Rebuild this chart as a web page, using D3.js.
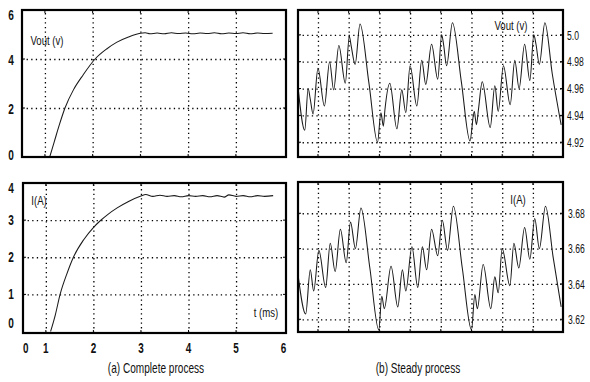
<!DOCTYPE html>
<html><head><meta charset="utf-8">
<script src="https://cdn.jsdelivr.net/npm/d3@7"></script>
<style>body{margin:0;background:#fff}svg{display:block}</style>
</head><body>
<svg id="c" width="590" height="382"></svg>
<script>
// ---------- data ----------
// (a) complete process, time in ms
const completeVTime = [1.10,1.20,1.30,1.42,1.60,1.80,2.05,2.30,2.50,2.75,3.00,3.10,3.20,3.35,3.50,3.65,3.80,3.95,4.10,4.25,4.40,4.55,4.70,4.85,5.00,5.15,5.30,5.45,5.60,5.77];
const completeV     = [0,0.65,1.3,2.0,2.75,3.35,4.0,4.42,4.68,4.9,5.05,5.07,5.03,5.06,5.03,5.07,5.04,5.06,5.03,5.06,5.04,5.07,5.03,5.06,5.04,5.07,5.03,5.06,5.04,5.05];
const completeITime = [1.10,1.20,1.30,1.45,1.58,1.80,2.00,2.15,2.30,2.50,2.75,3.00,3.10,3.25,3.40,3.55,3.70,3.85,4.00,4.15,4.30,4.45,4.60,4.75,4.85,5.00,5.15,5.30,5.45,5.60,5.78];
const completeI     = [0,0.45,1.0,1.58,2.0,2.48,2.8,2.99,3.15,3.33,3.51,3.65,3.69,3.64,3.67,3.64,3.66,3.63,3.66,3.64,3.66,3.63,3.66,3.62,3.68,3.64,3.66,3.63,3.66,3.64,3.66];
// (b) steady process, time in grid divisions
const steadyVTime = [-0.64,-0.43,-0.32,-0.25,-0.16,0.00,0.21,0.38,0.51,0.68,0.89,1.02,1.08,1.21,1.37,1.66,1.94,2.05,2.13,2.18,2.34,2.57,2.73,2.86,3.00,3.22,3.38,3.51,3.70,3.90,4.03,4.09,4.19,4.38,4.67,4.95,5.09,5.16,5.23,5.35,5.61,5.76,5.87,6.04,6.26,6.41,6.55,6.73,6.90,7.03,7.10,7.21,7.39,7.63,7.92];
const steadyV     = [4.959,4.929,4.960,4.952,4.941,4.975,4.947,4.980,4.959,4.992,4.964,4.999,4.992,4.978,5.008,4.964,4.920,4.942,4.932,4.944,4.964,4.930,4.959,4.942,4.977,4.947,4.981,4.963,4.993,4.967,5.000,4.993,4.977,5.009,4.965,4.921,4.943,4.933,4.945,4.965,4.931,4.962,4.943,4.977,4.948,4.981,4.960,4.993,4.966,5.000,4.993,4.978,5.009,4.971,4.933];
const steadyITime = [-0.64,-0.40,-0.25,-0.14,0.03,0.25,0.40,0.56,0.73,0.92,1.06,1.22,1.40,1.69,1.98,2.08,2.16,2.38,2.60,2.75,2.86,3.06,3.25,3.40,3.54,3.70,3.90,4.05,4.22,4.41,4.70,5.00,5.11,5.19,5.38,5.63,5.76,5.87,6.00,6.25,6.38,6.54,6.73,6.90,7.06,7.21,7.41,7.66,7.92];
const steadyI     = [3.644,3.623,3.648,3.636,3.659,3.638,3.663,3.647,3.671,3.652,3.675,3.660,3.683,3.649,3.614,3.633,3.626,3.650,3.627,3.648,3.636,3.661,3.638,3.661,3.648,3.671,3.656,3.676,3.659,3.684,3.649,3.614,3.634,3.626,3.651,3.626,3.644,3.635,3.660,3.639,3.663,3.649,3.672,3.654,3.677,3.660,3.684,3.655,3.627];

// ticks
const timeTickPos    = [0.58,1,2,3,4,5,6];
const timeTickLabels = ["0","1","2","3","4","5","6"];
const timeGrid       = [1,2,3,4,5];
const vTicks  = [0,2,4,6];
const iTicks  = [0,1,2,3,4];
const steadyGrid = [0,1,2,3,4,5,6,7];
const sVTicks = [4.92,4.94,4.96,4.98,5.0];
const sVLabels = ["4.92","4.94","4.96","4.98","5.0"];
const sITicks = [3.62,3.64,3.66,3.68];
const sILabels = ["3.62","3.64","3.66","3.68"];

// ---------- drawing ----------
const svg = d3.select('#c');
const FONT = '"Liberation Sans", Arial, Helvetica, sans-serif';

function txt(x, y, s, o) {
  o = o || {};
  svg.append('text')
    .attr('transform', `translate(${x},${y}) scale(${o.sx || 0.72},1)`)
    .attr('text-anchor', o.anchor || 'middle')
    .attr('dominant-baseline', 'central')
    .style('font-family', FONT)
    .style('font-size', (o.size || 13) + 'px')
    .style('font-weight', o.weight || 'normal')
    .attr('fill', '#111')
    .text(s);
}

function panel(c) {
  const x = d3.scaleLinear().domain(c.xd).range(c.xr);
  const y = d3.scaleLinear().domain(c.yd).range(c.yr);
  const g = svg.append('g');
  const top = c.yr[1], bot = c.yr[0], L = c.xr[0], R = c.xr[1];
  // vertical grid
  g.append('g').attr('transform', `translate(0,${bot})`)
    .call(d3.axisBottom(x).tickValues(c.xgrid).tickSize(-(bot - top)).tickFormat(''))
    .call(a => a.select('.domain').remove())
    .selectAll('line').attr('stroke', '#000').attr('stroke-width', 1.3).attr('stroke-dasharray', '1.3,3.3');
  // horizontal grid
  g.append('g').attr('transform', `translate(${L},0)`)
    .call(d3.axisLeft(y).tickValues(c.ygrid).tickSize(-(R - L)).tickFormat(''))
    .call(a => a.select('.domain').remove())
    .selectAll('line').attr('stroke', '#000').attr('stroke-width', 1.3).attr('stroke-dasharray', '1.3,3.3');
  // small solid frame ticks
  c.xgrid.forEach(d => {
    g.append('line').attr('x1', x(d)).attr('x2', x(d)).attr('y1', bot).attr('y2', bot - 3).attr('stroke', '#000');
    g.append('line').attr('x1', x(d)).attr('x2', x(d)).attr('y1', top).attr('y2', top + 3).attr('stroke', '#000');
  });
  c.ygrid.forEach(d => {
    g.append('line').attr('x1', L).attr('x2', L + 3).attr('y1', y(d)).attr('y2', y(d)).attr('stroke', '#000');
    g.append('line').attr('x1', R).attr('x2', R - 3).attr('y1', y(d)).attr('y2', y(d)).attr('stroke', '#000');
  });
  // trace
  g.append('path').datum(d3.zip(c.t, c.v))
    .attr('d', d3.line().x(d => x(d[0])).y(d => y(d[1])).curve(d3.curveMonotoneX))
    .attr('fill', 'none').attr('stroke', '#1a1a1a').attr('stroke-width', 1.05);
  // frame
  g.append('rect').attr('x', L).attr('y', top).attr('width', R - L).attr('height', bot - top)
    .attr('fill', 'none').attr('stroke', '#000').attr('stroke-width', 2.2);
  return { x, y };
}

// (a) top: Vout
const pa1 = panel({ xd: [0.52, 6.05], xr: [22, 286], yd: [0, 6], yr: [157, 10],
  xgrid: timeGrid, ygrid: [2, 4], t: completeVTime, v: completeV });
vTicks.forEach(d => {
  const dy = d === 6 ? 5 : (d === 0 ? -2 : 1);
  txt(11, pa1.y(d) + dy, String(d), { size: 14, sx: 0.72, weight: 'bold' });
});
txt(47, 40, 'Vout (v)', { size: 13, sx: 0.74 });

// (a) bottom: I
const pa2 = panel({ xd: [0.52, 6.05], xr: [23, 286], yd: [-0.04, 4], yr: [333, 183],
  xgrid: timeGrid, ygrid: [1, 2, 3], t: completeITime, v: completeI });
iTicks.forEach(d => {
  const dy = d === 4 ? 5 : (d === 0 ? -8 : 0);
  txt(11, pa2.y(d) + dy, String(d), { size: 14, sx: 0.72, weight: 'bold' });
});
txt(39, 200, 'I(A)', { size: 13, sx: 0.74 });
txt(266, 312, 't (ms)', { size: 13, sx: 0.74 });
timeTickPos.forEach((d, i) => {
  txt(pa2.x(d), 348, timeTickLabels[i], { size: 15, sx: 0.66, weight: 'bold' });
});
txt(156, 368, '(a) Complete process', { size: 14, sx: 0.72 });

// (b) top: Vout steady
const pb1 = panel({ xd: [-0.65, 7.98], xr: [298, 563], yd: [4.909, 5.0185], yr: [157, 10],
  xgrid: steadyGrid, ygrid: sVTicks, t: steadyVTime, v: steadyV });
sVTicks.forEach((d, i) => txt(567, pb1.y(d), sVLabels[i], { size: 13, sx: 0.66, anchor: 'start' }));
txt(511, 25, 'Vout (v)', { size: 13, sx: 0.74 });

// (b) bottom: I steady
const pb2 = panel({ xd: [-0.65, 7.98], xr: [298, 563], yd: [3.6128, 3.6977], yr: [332, 182],
  xgrid: steadyGrid, ygrid: sITicks, t: steadyITime, v: steadyI });
sITicks.forEach((d, i) => txt(568, pb2.y(d), sILabels[i], { size: 13, sx: 0.66, anchor: 'start' }));
txt(518, 199, 'I(A)', { size: 13, sx: 0.74 });
txt(418, 368, '(b) Steady process', { size: 14, sx: 0.72 });
</script>
</body></html>
